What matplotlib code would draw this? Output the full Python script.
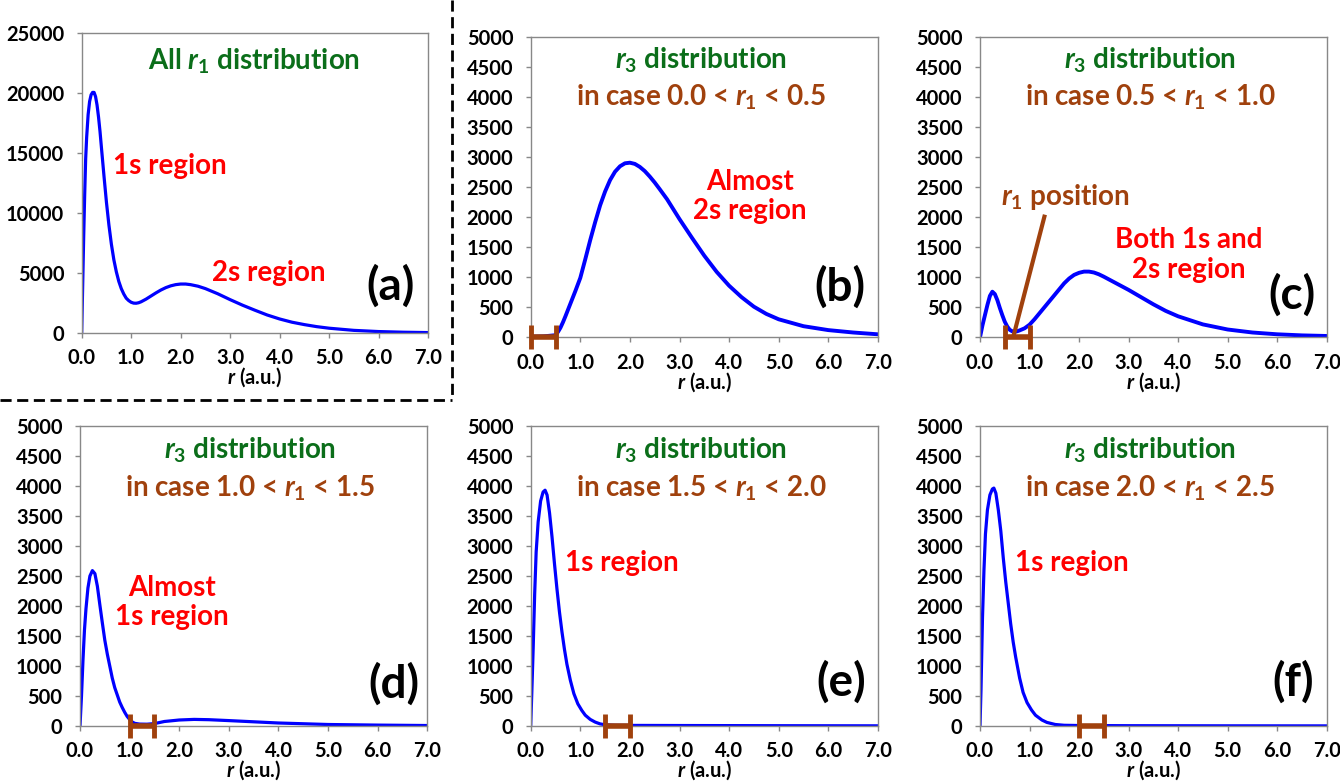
import matplotlib
matplotlib.use("Agg")
import matplotlib.pyplot as plt
from matplotlib.lines import Line2D

plt.rcParams['font.family'] = ['Lato', 'DejaVu Sans']
plt.rcParams['font.weight'] = 'bold'
plt.rcParams['mathtext.fontset'] = 'custom'
plt.rcParams['mathtext.it'] = 'Lato:italic:bold'
plt.rcParams['mathtext.rm'] = 'Lato:bold'
plt.rcParams['mathtext.bf'] = 'Lato:bold'

GREEN = '#0b6e1a'
BROWN = '#a0410d'
RED = '#ff0000'
BLUE = '#0000ff'

# (a) all r1 distribution
r_a = [0.0, 0.02, 0.04, 0.06, 0.08, 0.1, 0.13, 0.16, 0.19, 0.22, 0.25, 0.28, 0.31, 0.34,
       0.37, 0.4, 0.45, 0.5, 0.55, 0.6, 0.65, 0.7, 0.75, 0.8, 0.85, 0.9, 0.95, 1.0, 1.05,
       1.1, 1.15, 1.2, 1.3, 1.4, 1.5, 1.6, 1.7, 1.8, 1.9, 2.0, 2.1, 2.2, 2.35, 2.5, 2.75,
       3.0, 3.25, 3.5, 3.75, 4.0, 4.25, 4.5, 4.75, 5.0, 5.5, 6.0, 6.5, 7.0]
y_a = [0, 4000, 8000, 11500, 14500, 16300, 18200, 19300, 19850, 20050, 20050, 19700, 19000,
       18000, 16800, 15400, 13100, 10900, 9000, 7400, 6100, 5100, 4300, 3700, 3250, 2900,
       2700, 2560, 2490, 2480, 2520, 2600, 2820, 3080, 3340, 3580, 3780, 3930, 4030, 4080,
       4080, 4030, 3900, 3700, 3270, 2780, 2320, 1900, 1500, 1170, 900, 700, 530, 400, 220,
       120, 65, 35]

# (b) r3 for 0.0 < r1 < 0.5
r_b = [0.0, 0.25, 0.5, 0.55, 0.6, 0.65, 0.7, 0.8, 0.9, 1.0, 1.1, 1.2, 1.3, 1.4, 1.5, 1.6,
       1.7, 1.8, 1.9, 2.0, 2.1, 2.2, 2.3, 2.4, 2.5, 2.6, 2.75, 3.0, 3.25, 3.5, 3.75, 4.0,
       4.25, 4.5, 4.75, 5.0, 5.5, 6.0, 6.5, 7.0]
y_b = [10, 15, 35, 90, 160, 250, 350, 560, 770, 990, 1300, 1620, 1920, 2200, 2430, 2620,
       2760, 2850, 2900, 2910, 2890, 2840, 2770, 2680, 2580, 2470, 2300, 1970, 1660, 1360,
       1090, 860, 670, 510, 390, 300, 185, 120, 80, 50]

# (c) r3 for 0.5 < r1 < 1.0
r_c = [0.0, 0.05, 0.1, 0.15, 0.2, 0.25, 0.3, 0.35, 0.4, 0.45, 0.5, 0.55, 0.6, 0.65, 0.7,
       0.75, 0.8, 0.9, 1.0, 1.1, 1.2, 1.3, 1.4, 1.5, 1.6, 1.7, 1.8, 1.9, 2.0, 2.1, 2.2, 2.3,
       2.4, 2.5, 2.75, 3.0, 3.25, 3.5, 3.75, 4.0, 4.5, 5.0, 5.5, 6.0, 6.5, 7.0]
y_c = [0, 200, 370, 540, 690, 760, 720, 620, 490, 370, 260, 180, 125, 100, 92, 100, 115,
       150, 210, 300, 400, 500, 600, 700, 800, 900, 980, 1040, 1075, 1095, 1095, 1080, 1050,
       1010, 900, 790, 670, 550, 440, 350, 215, 130, 80, 50, 32, 22]

# (d) r3 for 1.0 < r1 < 1.5
r_d = [0.0, 0.03, 0.06, 0.09, 0.12, 0.16, 0.2, 0.25, 0.3, 0.35, 0.4, 0.45, 0.5, 0.55, 0.6,
       0.65, 0.7, 0.75, 0.8, 0.85, 0.9, 0.95, 1.0, 1.05, 1.1, 1.2, 1.35, 1.5, 1.7, 2.0, 2.3,
       2.6, 3.0, 3.5, 4.0, 5.0, 6.0, 7.0]
y_d = [0, 500, 1100, 1600, 1950, 2300, 2500, 2590, 2540, 2330, 2020, 1720, 1430, 1200,
       1000, 800, 640, 520, 400, 310, 230, 160, 110, 70, 45, 32, 30, 40, 75, 100, 110, 105,
       90, 70, 50, 25, 15, 8]

# (e) r3 for 1.5 < r1 < 2.0
r_e = [0.0, 0.02, 0.05, 0.08, 0.11, 0.15, 0.2, 0.25, 0.29, 0.33, 0.38, 0.43, 0.48, 0.53,
       0.58, 0.63, 0.68, 0.73, 0.8, 0.87, 0.95, 1.03, 1.1, 1.2, 1.3, 1.4, 1.5, 1.7, 2.0,
       3.0, 5.0, 7.0]
y_e = [0, 500, 1300, 2200, 2900, 3400, 3750, 3900, 3930, 3850, 3550, 3150, 2700, 2280,
       1900, 1570, 1280, 1030, 760, 540, 370, 260, 180, 110, 65, 35, 20, 12, 10, 8, 5, 3]

# (f) r3 for 2.0 < r1 < 2.5
r_f = [0.0, 0.02, 0.05, 0.08, 0.11, 0.15, 0.2, 0.25, 0.28, 0.32, 0.37, 0.42, 0.47, 0.52,
       0.57, 0.62, 0.67, 0.72, 0.8, 0.87, 0.95, 1.04, 1.12, 1.25, 1.35, 1.52, 1.7, 2.0,
       3.0, 5.0, 7.0]
y_f = [0, 600, 1800, 2600, 3200, 3600, 3850, 3950, 3965, 3880, 3600, 3250, 2800, 2400,
       2050, 1700, 1400, 1150, 800, 560, 390, 267, 180, 100, 60, 25, 12, 8, 5, 3, 2]

# r1 windows drawn as brackets on the x axis
r1_ranges = [None, (0.0, 0.5), (0.5, 1.0), (1.0, 1.5), (1.5, 2.0), (2.0, 2.5)]
panel_tags = ['(a)', '(b)', '(c)', '(d)', '(e)', '(f)']

series = [(r_a, y_a), (r_b, y_b), (r_c, y_c), (r_d, y_d), (r_e, y_e), (r_f, y_f)]

W, H = 1340, 784
boxes = [(81.7, 33, 428, 333), (530.7, 37.3, 877.9, 337.3), (980, 37.3, 1326.7, 337.3),
         (80, 426, 427.3, 726), (530.7, 426, 877.9, 726), (980, 426, 1326.7, 726)]

fig = plt.figure(figsize=(13.4, 7.84), dpi=100)

region_labels = [
    [("1s region", 1.79, 13940), ("2s region", 3.78, 5000)],
    [("Almost\n2s region", 4.42, 2343)],
    [("Both 1s and\n2s region", 4.21, 1372)],
    [("Almost\n1s region", 1.86, 2053)],
    [("1s region", 1.83, 2712)],
    [("1s region", 1.85, 2712)],
]
tag_pos = [(6.25, 3900), (6.24, 843), (6.3, 705), (6.32, 707), (6.27, 738), (6.33, 738)]

FS = 20
for i, (x0, y0, x1, y1) in enumerate(boxes):
    ax = fig.add_axes([x0 / W, 1 - y1 / H, (x1 - x0) / W, (y1 - y0) / H])
    rr, yy = series[i]
    ax.plot(rr, yy, color=BLUE, lw=2.8 if i in (1, 2) else 2.3, solid_joinstyle='round')
    ax.set_xlim(0, 7)
    ymax = 25000 if i == 0 else 5000
    ystep = 5000 if i == 0 else 500
    ax.set_ylim(0, ymax)
    ax.set_xticks([0, 1, 2, 3, 4, 5, 6, 7])
    ax.set_xticklabels([f"{v:.1f}" for v in range(8)])
    ax.set_yticks(list(range(0, ymax + 1, ystep)))
    ax.tick_params(labelsize=14.5, length=3.6, width=1, color='#888888')
    ax.tick_params(axis='x', pad=7.5)
    ax.tick_params(axis='y', pad=9)
    for lab in ax.get_xticklabels() + ax.get_yticklabels():
        lab.set_fontweight('bold')
    for s in ax.spines.values():
        s.set_color('#888888')
        s.set_linewidth(1)
    ax.set_xlabel(r"$\mathit{r}$ (a.u.)", fontsize=14.5, fontweight='bold', labelpad=-2)

    # titles
    if i == 0:
        ax.text(0.497, 0.907, r"All $\mathit{r}_\mathrm{1}$ distribution", transform=ax.transAxes,
                ha='center', va='center', color=GREEN, fontsize=FS, fontweight='bold')
    else:
        ty1, ty2 = (0.924, 0.80) if i < 3 else (0.92, 0.793)
        lo, hi = r1_ranges[i]
        ax.text(0.49, ty1, r"$\mathit{r}_\mathrm{3}$ distribution", transform=ax.transAxes,
                ha='center', va='center', color=GREEN, fontsize=FS, fontweight='bold')
        ax.text(0.49, ty2, f"in case {lo:.1f} < " + r"$\mathit{r}_\mathrm{1}$" + f" < {hi:.1f}",
                transform=ax.transAxes, ha='center', va='center', color=BROWN,
                fontsize=FS, fontweight='bold')
        # r1 window bracket
        ax.plot([lo, hi], [0, 0], color=BROWN, lw=4, clip_on=False, zorder=5,
                solid_capstyle='butt')
        ax.plot([lo, hi], [0, 0], ls='none', marker='|', ms=17, mew=3.5, color=BROWN,
                clip_on=False, zorder=5)

    for txt, tx, ty in region_labels[i]:
        ax.text(tx, ty, txt, ha='center', va='center', color=RED, fontsize=FS,
                fontweight='bold', linespacing=1.15)
    ax.text(tag_pos[i][0], tag_pos[i][1], panel_tags[i], ha='center', va='center',
            color='black', fontsize=33, fontweight='bold')

    if i == 2:
        ax.plot([0.67, 1.3], [0, 2010], color=BROWN, lw=3, zorder=4)
        ax.text(1.73, 2343, r"$\mathit{r}_\mathrm{1}$ position", ha='center', va='center',
                color=BROWN, fontsize=FS, fontweight='bold')

# dashed separator around panel (a)
fig.add_artist(Line2D([452 / W, 452 / W], [1.0, 1 - 400 / H], transform=fig.transFigure,
                      color='black', lw=2, ls=(0, (4, 2))))
fig.add_artist(Line2D([0, 452 / W], [1 - 400 / H, 1 - 400 / H], transform=fig.transFigure,
                      color='black', lw=2, ls=(0, (4, 2))))

fig.savefig("out.png", dpi=100)
